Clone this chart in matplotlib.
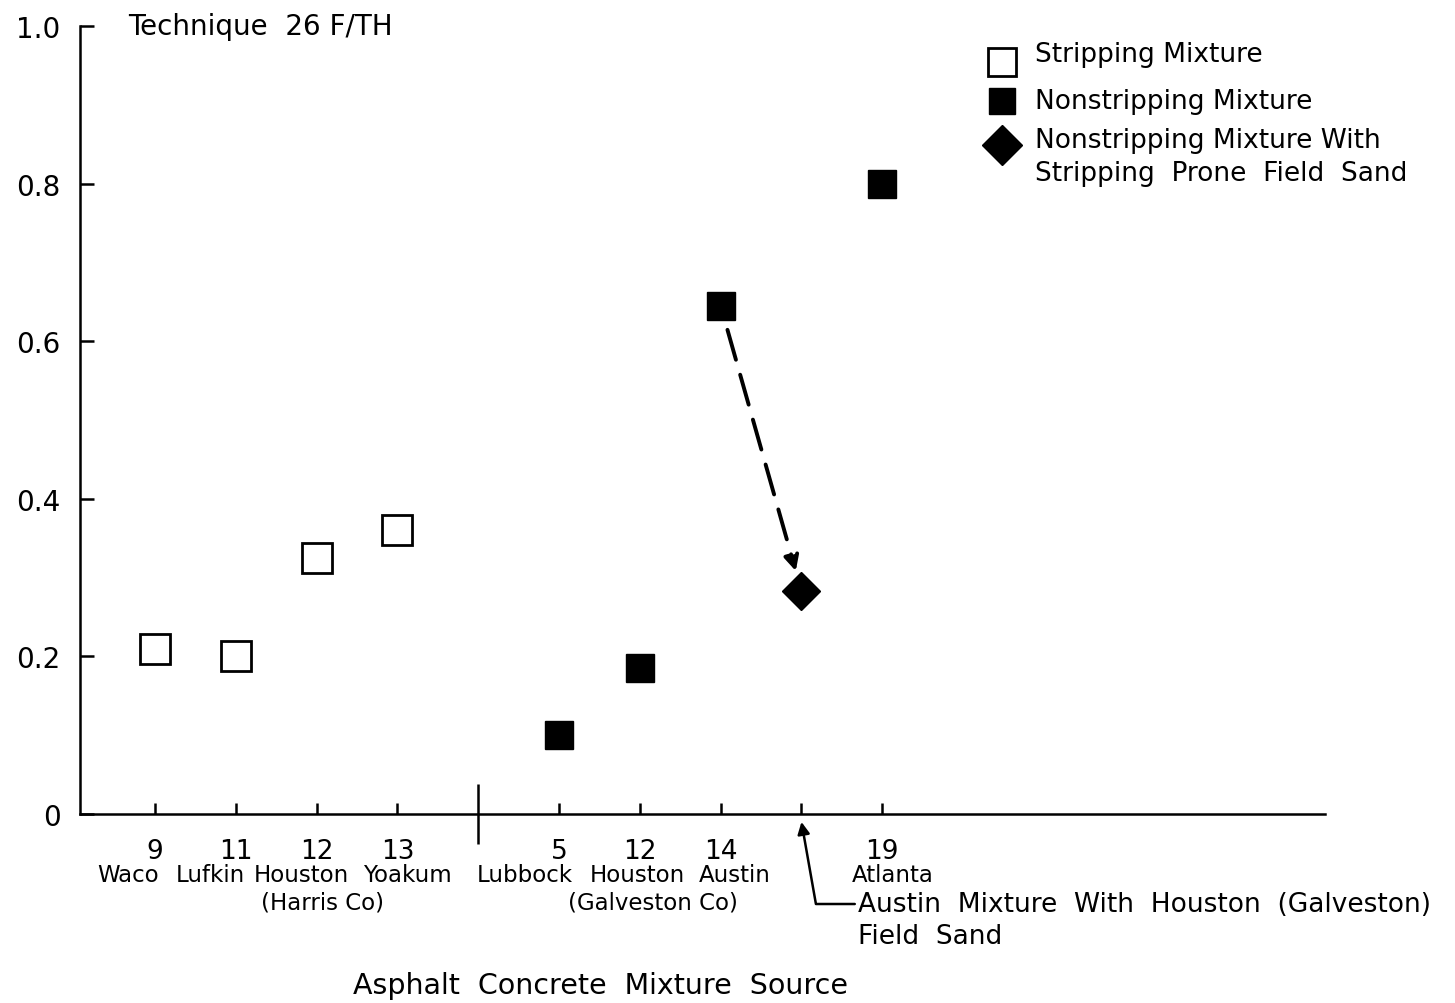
import matplotlib
matplotlib.use("Agg")
import matplotlib.pyplot as plt
from matplotlib import transforms
from matplotlib.lines import Line2D

plt.rcParams['font.family'] = ['DejaVu Sans']

# mixture sources along the x axis (slot 5 is the divider, slot 9 the field-sand case)
strip_pos = [1, 2, 3, 4]
strip_vals = [0.21, 0.20, 0.325, 0.36]
nonstrip_pos = [6, 7, 8, 10]
nonstrip_vals = [0.10, 0.185, 0.645, 0.80]
sand_pos = [9]
sand_vals = [0.283]

label_pos = [1, 2, 3, 4, 6, 7, 8, 10]
codes = ['9', '11', '12', '13', '5', '12', '14', '19']
names = ['Waco', 'Lufkin', 'Houston', 'Yoakum', 'Lubbock', 'Houston', 'Austin', 'Atlanta']
subs = ['', '', '(Harris Co)', '', '', '(Galveston Co)', '', '']
tick_pos = [1, 2, 3, 4, 6, 7, 8, 9, 10]
sep_pos = 5

yticks = [0, 0.2, 0.4, 0.6, 0.8, 1.0]
ytick_labels = ['0', '0.2', '0.4', '0.6', '0.8', '1.0']

legend_labels = ['Stripping Mixture', 'Nonstripping Mixture',
                 'Nonstripping Mixture With\nStripping  Prone  Field  Sand']

# names run together as one line under the ticks, so they sit a bit off-centre
name_x = [0.67, 1.68, 2.81, 4.12, 5.58, 6.97, 8.17, 10.13]
sub_x = [None, None, 3.07, None, None, 7.16, None, None]

fig = plt.figure(figsize=(14.55, 10.04), dpi=100)
ax = fig.add_axes([0.055, 0.1882, 0.8557, 0.7849])
ax.set_xlim(0.072, 15.48)
ax.set_ylim(0, 1.0)

for s in ['top', 'right']:
    ax.spines[s].set_visible(False)
for s in ['left', 'bottom']:
    ax.spines[s].set_linewidth(1.8)

ax.set_yticks(yticks)
ax.set_yticklabels(ytick_labels, fontsize=20)
ax.tick_params(axis='y', direction='in', length=10, width=1.8, pad=14)
ax.set_xticks(tick_pos)
ax.set_xticklabels([])
ax.tick_params(axis='x', direction='in', length=8, width=1.8)

# divider between the two groups of mixtures
ax.vlines(sep_pos, -0.038, 0.038, color='black', lw=1.8, clip_on=False)

ax.plot(strip_pos, strip_vals, 's', ms=21, mfc='white', mec='black', mew=2,
        ls='none', clip_on=False)
ax.plot(nonstrip_pos, nonstrip_vals, 's', ms=20, mfc='black', mec='black',
        ls='none', clip_on=False)
ax.plot(sand_pos, sand_vals, 'D', ms=19, mfc='black', mec='black',
        ls='none', clip_on=False)

# Austin mixture -> same mixture with Galveston field sand
ax.annotate('', xy=(sand_pos[0], sand_vals[0]), xytext=(nonstrip_pos[2], nonstrip_vals[2]),
            arrowprops=dict(arrowstyle='-|>', ls=(0, (8, 4)), lw=2.8, color='black',
                            shrinkA=18, shrinkB=15, mutation_scale=22))

blend = transforms.blended_transform_factory(ax.transData, fig.transFigure)
for x, c in zip(label_pos, codes):
    ax.text(x, 0.1514, c, transform=blend, ha='center', va='center', fontsize=19)
for x, n in zip(name_x, names):
    ax.text(x, 0.1275, n, transform=blend, ha='center', va='center', fontsize=16.5)
for x, s in zip(sub_x, subs):
    if s:
        ax.text(x, 0.1006, s, transform=blend, ha='center', va='center', fontsize=16.5)

ax.annotate('', xy=(sand_pos[0], -0.01), xycoords='data',
            xytext=(9.66, 0.0986), textcoords=blend,
            arrowprops=dict(arrowstyle='-|>', lw=1.8, color='black',
                            connectionstyle='angle,angleA=0,angleB=-80,rad=0',
                            shrinkA=0, shrinkB=0, mutation_scale=18),
            annotation_clip=False)
ax.text(9.70, 0.0986, 'Austin  Mixture  With  Houston  (Galveston)', transform=blend,
        ha='left', va='center', fontsize=19)
ax.text(9.70, 0.0667, 'Field  Sand', transform=blend,
        ha='left', va='center', fontsize=19)

ax.text(0.0386, 1.0, 'Technique  26 F/TH', transform=ax.transAxes,
        ha='left', va='center', fontsize=20)

fig.text(0.4124, 0.018, 'Asphalt  Concrete  Mixture  Source', ha='center',
         va='center', fontsize=20.5)

# legend keys
key_x = 0.6887
text_x = 0.7113
key_y = [0.9375, 0.8984, 0.8546]
text_y = [0.9452, 0.8984, 0.8596]
key_style = [dict(marker='s', ms=20, mfc='white', mec='black', mew=2),
             dict(marker='s', ms=19, mfc='black', mec='black'),
             dict(marker='D', ms=20, mfc='black', mec='black')]
for ky, ty, lab, st in zip(key_y, text_y, legend_labels, key_style):
    fig.add_artist(Line2D([key_x], [ky], transform=fig.transFigure, ls='none', **st))
    for i, line in enumerate(lab.split('\n')):
        fig.text(text_x, ty - i * 0.033, line, ha='left', va='center', fontsize=19)

fig.savefig('out.png', dpi=100)
